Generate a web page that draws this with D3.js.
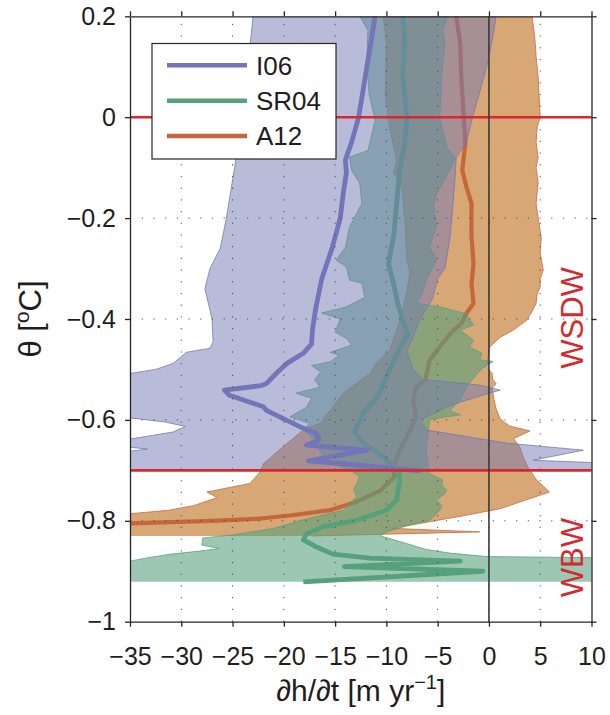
<!DOCTYPE html>
<html>
<head>
<meta charset="utf-8">
<script src="https://cdn.jsdelivr.net/npm/d3@7"></script>
<style>
  html, body { margin: 0; padding: 0; background: #fff; }
  svg { display: block; font-family: "Liberation Sans", Arial, Helvetica, sans-serif; }
</style>
</head>
<body>
<svg id="chart" width="610" height="715"></svg>
<script>
// Thickness change rate profiles dh/dt [m/yr] against potential temperature θ [°C]
// Each profile: [theta, value] pairs. Bands give the lower / upper envelope.

const seriesNames = ["I06", "SR04", "A12"];
const xTicks = [-35, -30, -25, -20, -15, -10, -5, 0, 5, 10];
const yTicks = [-1, -0.8, -0.6, -0.4, -0.2, 0, 0.2];
const refTheta = [0, -0.7];
const waterMasses = [["WSDW", -0.398], ["WBW", -0.873]];

const i06Mean = [
  [0.20, -11.1], [0.15, -11.5], [0.10, -11.9], [0.05, -12.3], [0.00, -12.7],
  [-0.05, -13.4], [-0.085, -14.0], [-0.11, -13.9], [-0.15, -14.2], [-0.20, -14.5],
  [-0.26, -15.3], [-0.32, -16.3], [-0.38, -16.9], [-0.42, -17.2], [-0.45, -17.3],
  [-0.468, -18.1], [-0.488, -19.7], [-0.507, -20.7], [-0.528, -21.7], [-0.532, -22.2],
  [-0.541, -25.8], [-0.551, -25.3], [-0.574, -22.0], [-0.581, -21.7], [-0.594, -20.4],
  [-0.614, -18.4], [-0.627, -16.8], [-0.640, -16.6], [-0.650, -17.8], [-0.660, -11.9],
  [-0.681, -17.6], [-0.701, -6.7]
];
const i06Lower = [
  [0.20, -23.0], [0.10, -23.5], [0.00, -24.1], [-0.10, -24.8], [-0.20, -25.6],
  [-0.26, -26.2], [-0.30, -27.2], [-0.34, -27.7], [-0.40, -27.0], [-0.445, -26.9],
  [-0.458, -27.2], [-0.466, -29.5], [-0.488, -30.8], [-0.500, -32.5], [-0.508, -35.0],
  [-0.512, -40], [-0.590, -40], [-0.596, -35.0], [-0.604, -31.6], [-0.613, -29.6],
  [-0.624, -30.8], [-0.638, -35.0], [-0.642, -40], [-0.650, -40], [-0.654, -35.0],
  [-0.658, -33.3], [-0.662, -35.0], [-0.666, -40], [-0.700, -40]
];
const i06Upper = [
  [0.20, 0.7], [0.15, 0.3], [0.11, -0.1], [0.05, -0.9], [0.00, -1.6],
  [-0.05, -2.2], [-0.08, -3.2], [-0.12, -3.3], [-0.17, -3.5], [-0.24, -3.8],
  [-0.30, -4.3], [-0.32, -5.0], [-0.36, -5.5], [-0.40, -6.7], [-0.435, -7.4],
  [-0.462, -8.0], [-0.50, -7.4], [-0.52, -6.4], [-0.531, -0.9], [-0.541, 1.1],
  [-0.551, -0.6], [-0.561, -2.2], [-0.574, -4.1], [-0.60, -6.7], [-0.62, -6.1],
  [-0.646, 1.7], [-0.660, 9.2], [-0.680, 4.3], [-0.686, 12], [-0.700, 12]
];

const sr04Mean = [
  [0.20, -8.4], [0.15, -8.2], [0.08, -8.4], [0.00, -8.0], [-0.05, -8.2],
  [-0.105, -8.7], [-0.17, -9.0], [-0.237, -9.3], [-0.29, -9.8], [-0.33, -9.3],
  [-0.369, -8.9], [-0.402, -8.4], [-0.43, -7.9], [-0.455, -8.6], [-0.50, -9.7],
  [-0.553, -10.8], [-0.587, -12.3], [-0.625, -13.1], [-0.645, -12.3], [-0.673, -10.3],
  [-0.70, -8.8], [-0.719, -8.7], [-0.759, -9.0], [-0.779, -10.0], [-0.799, -12.9],
  [-0.812, -16.2], [-0.826, -17.8], [-0.838, -18.1], [-0.852, -16.8], [-0.866, -15.2],
  [-0.874, -11.6], [-0.880, -2.8], [-0.891, -14.1], [-0.900, -0.6], [-0.921, -18.1]
];
const sr04Lower = [
  [0.20, -12.6], [0.172, -11.8], [0.113, -11.9], [0.047, -11.7], [-0.006, -11.1],
  [-0.066, -11.8], [-0.079, -13.6], [-0.105, -13.4], [-0.131, -12.6], [-0.171, -12.4],
  [-0.218, -13.6], [-0.258, -14.0], [-0.283, -14.9], [-0.297, -13.9], [-0.323, -13.6],
  [-0.329, -12.4], [-0.357, -12.1], [-0.376, -13.9], [-0.388, -16.3], [-0.40, -14.5],
  [-0.426, -15.0], [-0.440, -13.8], [-0.452, -13.4], [-0.466, -15.5], [-0.472, -14.6],
  [-0.485, -15.5], [-0.492, -17.3], [-0.505, -16.4], [-0.52, -17.0], [-0.535, -16.5],
  [-0.547, -18.8], [-0.557, -17.3], [-0.575, -17.8], [-0.594, -19.4], [-0.607, -17.5],
  [-0.62, -18.1], [-0.64, -17.0], [-0.66, -16.5], [-0.68, -16.0], [-0.70, -13.5],
  [-0.713, -12.6], [-0.739, -13.2], [-0.752, -12.9], [-0.779, -14.2], [-0.79, -16.5],
  [-0.80, -18.5], [-0.815, -21.0], [-0.828, -25.0], [-0.834, -27.9], [-0.848, -28.0],
  [-0.855, -26.3], [-0.860, -28.2], [-0.866, -31.0], [-0.874, -33.5], [-0.880, -35.0],
  [-0.884, -40], [-0.921, -40]
];
const sr04Upper = [
  [0.20, -4.0], [0.172, -4.5], [0.147, -4.3], [0.08, -4.6], [0.00, -4.8],
  [-0.06, -4.1], [-0.08, -3.3], [-0.10, -3.7], [-0.131, -4.5], [-0.151, -5.1],
  [-0.177, -5.4], [-0.217, -5.1], [-0.256, -5.8], [-0.283, -5.1], [-0.323, -6.1],
  [-0.345, -6.4], [-0.369, -7.0], [-0.375, -5.0], [-0.389, -2.3], [-0.412, -1.5],
  [-0.422, -2.8], [-0.442, -1.5], [-0.455, -1.9], [-0.468, -0.7], [-0.481, -0.9],
  [-0.484, 0.4], [-0.497, -0.6], [-0.51, -1.2], [-0.53, -2.0], [-0.548, -2.5],
  [-0.561, -2.8], [-0.581, -3.8], [-0.59, -2.8], [-0.596, -4.8], [-0.60, -5.8],
  [-0.62, -5.9], [-0.66, -6.1], [-0.70, -5.9], [-0.706, -5.8], [-0.719, -4.5],
  [-0.73, -4.6], [-0.739, -4.1], [-0.746, -4.3], [-0.759, -5.1], [-0.77, -4.6],
  [-0.779, -4.8], [-0.79, -5.3], [-0.799, -5.8], [-0.81, -8.0], [-0.822, -10.0],
  [-0.830, -10.6], [-0.841, -8.7], [-0.857, -6.1], [-0.864, -3.8], [-0.871, -0.2],
  [-0.873, 10.0], [-0.876, 12], [-0.921, 12]
];

const a12Mean = [
  [0.20, -3.2], [0.147, -2.8], [0.08, -2.7], [0.014, -2.5], [-0.052, -2.3],
  [-0.105, -2.6], [-0.138, -2.2], [-0.171, -1.7], [-0.237, -1.7], [-0.29, -1.5],
  [-0.33, -1.7], [-0.369, -1.5], [-0.389, -2.2], [-0.409, -2.7], [-0.425, -3.6],
  [-0.455, -4.8], [-0.482, -5.8], [-0.521, -6.2], [-0.535, -7.1], [-0.561, -7.4],
  [-0.594, -7.1], [-0.62, -7.7], [-0.647, -8.4], [-0.673, -9.0], [-0.70, -9.3],
  [-0.713, -9.2], [-0.74, -10.6], [-0.762, -12.9], [-0.779, -15.5], [-0.789, -19.2],
  [-0.796, -22.5], [-0.80, -27.0], [-0.803, -31.8], [-0.806, -36], [-0.808, -40]
];
const a12Lower = [
  [0.20, -10.3], [0.147, -10.0], [0.047, -10.1], [-0.02, -9.7], [-0.085, -9.0],
  [-0.11, -9.3], [-0.138, -8.5], [-0.204, -8.2], [-0.283, -8.0], [-0.31, -7.7],
  [-0.343, -8.0], [-0.382, -8.4], [-0.422, -9.0], [-0.462, -9.7], [-0.488, -11.0],
  [-0.508, -11.6], [-0.527, -12.9], [-0.547, -14.2], [-0.574, -15.2], [-0.607, -16.5],
  [-0.62, -18.1], [-0.647, -19.7], [-0.687, -22.0], [-0.703, -22.3], [-0.726, -23.3],
  [-0.743, -27.5], [-0.754, -26.5], [-0.77, -28.8], [-0.779, -31.2], [-0.786, -35.0],
  [-0.79, -40], [-0.830, -40]
];
const a12Upper = [
  [0.20, 4.2], [0.17, 4.4], [0.15, 4.5], [0.12, 4.6], [0.08, 4.8], [0.04, 4.9],
  [0.00, 5.0], [-0.02, 4.7], [-0.05, 4.6], [-0.08, 4.8], [-0.10, 4.6], [-0.13, 4.8],
  [-0.171, 4.6], [-0.20, 4.8], [-0.238, 5.1], [-0.27, 5.0], [-0.303, 5.3], [-0.32, 5.0],
  [-0.336, 5.0], [-0.35, 4.7], [-0.369, 4.6], [-0.385, 4.2], [-0.402, 3.7], [-0.422, 2.4],
  [-0.436, 1.1], [-0.455, 0.1], [-0.48, -0.1], [-0.495, -0.2], [-0.508, 0.3], [-0.521, 0.4],
  [-0.528, 0.7], [-0.537, 0.3], [-0.56, 0.5], [-0.578, 0.7], [-0.598, 1.1], [-0.612, 2.0],
  [-0.622, 4.0], [-0.637, 2.4], [-0.653, 3.0], [-0.67, 3.3], [-0.69, 3.7], [-0.70, 4.0],
  [-0.718, 4.6], [-0.743, 5.9], [-0.776, 1.1], [-0.79, -2.5], [-0.802, -5.8], [-0.815, -9.5],
  [-0.822, -0.9], [-0.830, -17.2]
];

const colors = { I06: "#7474b8", SR04: "#57a07c", A12: "#c5673a" };
const bandFill = { I06: "#737ab3", SR04: "#57a07c", A12: "#c8823c" };
const bandOpacity = { I06: 0.5, SR04: 0.59, A12: 0.7 };

const svg = d3.select("#chart");
const W = 610, H = 715;
const m = { left: 130, right: 591.5, top: 16.3, bottom: 621.7 };

const x = d3.scaleLinear().domain([-35, 10]).range([m.left, m.right]);
const y = d3.scaleLinear().domain([-1, 0.2]).range([m.bottom, m.top]);

svg.append("rect").attr("width", W).attr("height", H).attr("fill", "#fff");

svg.append("defs").append("clipPath").attr("id", "plotClip")
  .append("rect")
  .attr("x", m.left).attr("y", m.top)
  .attr("width", m.right - m.left).attr("height", m.bottom - m.top);

const plot = svg.append("g").attr("clip-path", "url(#plotClip)");

const profile = d3.line().x(d => x(d[1])).y(d => y(d[0]));

function drawBand(name, lower, upper) {
  const poly = lower.concat(upper.slice().reverse());
  plot.append("path")
    .attr("d", profile(poly) + "Z")
    .attr("fill", bandFill[name])
    .attr("fill-opacity", bandOpacity[name])
    .attr("stroke", "none");
  [lower, upper].forEach(edge => {
    plot.append("path")
      .attr("d", profile(edge))
      .attr("fill", "none")
      .attr("stroke", colors[name])
      .attr("stroke-opacity", 0.85)
      .attr("stroke-width", 0.9);
  });
}
function drawMean(name, data, width) {
  plot.append("path")
    .attr("d", profile(data))
    .attr("fill", "none")
    .attr("stroke", colors[name])
    .attr("stroke-width", width)
    .attr("stroke-linejoin", "round")
    .attr("stroke-linecap", "butt");
}

// drawing order: A12, SR04, I06 (each band then its mean)
drawBand("A12", a12Lower, a12Upper);
drawMean("A12", a12Mean, 4.2);
drawBand("SR04", sr04Lower, sr04Upper);
drawMean("SR04", sr04Mean, 4.8);
drawBand("I06", i06Lower, i06Upper);
drawMean("I06", i06Mean, 4.8);

// dotted grid
const grid = svg.append("g").attr("stroke", "#4a4a4a").attr("stroke-width", 1)
  .attr("stroke-dasharray", "1.2,10.5");
xTicks.slice(1, -1).forEach(t => {
  grid.append("line").attr("x1", x(t)).attr("x2", x(t))
    .attr("y1", m.bottom).attr("y2", m.top);
});
yTicks.slice(1, -1).forEach(t => {
  grid.append("line").attr("y1", y(t)).attr("y2", y(t))
    .attr("x1", m.left).attr("x2", m.right);
});

// reference isotherms
refTheta.forEach(t => {
  svg.append("line")
    .attr("x1", m.left).attr("x2", m.right)
    .attr("y1", y(t)).attr("y2", y(t))
    .attr("stroke", "#d7282e").attr("stroke-width", 2.6);
});
// zero change line
svg.append("line")
  .attr("x1", x(0)).attr("x2", x(0))
  .attr("y1", m.top).attr("y2", m.bottom)
  .attr("stroke", "#3a3a3a").attr("stroke-width", 1.6);

// axes
const fmt = d => (d < 0 ? "\u2212" + Math.abs(d) : String(d));
const axisColor = "#262626";
function styleAxis(g) {
  g.select(".domain").attr("stroke", axisColor).attr("stroke-width", 1.3);
  g.selectAll(".tick line").attr("stroke", axisColor).attr("stroke-width", 1.3);
  g.selectAll(".tick text").attr("fill", "#1e1e1e").style("font-size", "25px")
    .style("font-family", "'Liberation Sans', Arial, Helvetica, sans-serif");
}
svg.append("g").attr("transform", `translate(0,${m.bottom})`)
  .call(d3.axisBottom(x).tickValues(xTicks).tickFormat(fmt).tickSize(5).tickPadding(21).tickSizeOuter(0))
  .call(styleAxis);
svg.append("g").attr("transform", `translate(0,${m.top})`)
  .call(d3.axisTop(x).tickValues(xTicks).tickFormat("").tickSize(5).tickSizeOuter(0))
  .call(styleAxis);
svg.append("g").attr("transform", `translate(${m.left},0)`)
  .call(d3.axisLeft(y).tickValues(yTicks).tickFormat(fmt).tickSize(5).tickPadding(9).tickSizeOuter(0))
  .call(styleAxis);
svg.append("g").attr("transform", `translate(${m.right},0)`)
  .call(d3.axisRight(y).tickValues(yTicks).tickFormat("").tickSize(5).tickSizeOuter(0))
  .call(styleAxis);

// axis titles
const xTitle = svg.append("text")
  .attr("x", (m.left + m.right) / 2).attr("y", 701)
  .attr("text-anchor", "middle").attr("fill", "#1e1e1e").style("font-size", "30px");
xTitle.append("tspan").text("\u2202h/\u2202t [m yr");
xTitle.append("tspan").attr("dy", -12).style("font-size", "20px").text("\u22121");
xTitle.append("tspan").attr("dy", 12).text("]");

const yTitle = svg.append("text")
  .attr("transform", `translate(41,${(m.top + m.bottom) / 2}) rotate(-90)`)
  .attr("text-anchor", "middle").attr("fill", "#1e1e1e").style("font-size", "31px");
yTitle.append("tspan").text("\u03b8 [");
yTitle.append("tspan").attr("dy", -12).style("font-size", "21px").text("o");
yTitle.append("tspan").attr("dy", 12).text("C]");

// water mass labels
waterMasses.forEach(([label, t]) => {
  svg.append("text")
    .attr("transform", `translate(583,${y(t)}) rotate(-90)`)
    .attr("text-anchor", "middle").attr("fill", "#d42a2f")
    .style("font-size", "31px").text(label);
});

// legend
const lg = svg.append("g");
lg.append("rect").attr("x", 152).attr("y", 43.5).attr("width", 184).attr("height", 115.5)
  .attr("fill", "#fff").attr("stroke", axisColor).attr("stroke-width", 1.2);
seriesNames.forEach((name, i) => {
  const ly = 65.3 + i * 35.4;
  lg.append("line").attr("x1", 167).attr("x2", 247).attr("y1", ly).attr("y2", ly)
    .attr("stroke", colors[name]).attr("stroke-width", 4.5);
  lg.append("text").attr("x", 256).attr("y", ly).attr("dy", "0.36em")
    .attr("fill", "#1e1e1e").style("font-size", "26px").text(name);
});
</script>
</body>
</html>
